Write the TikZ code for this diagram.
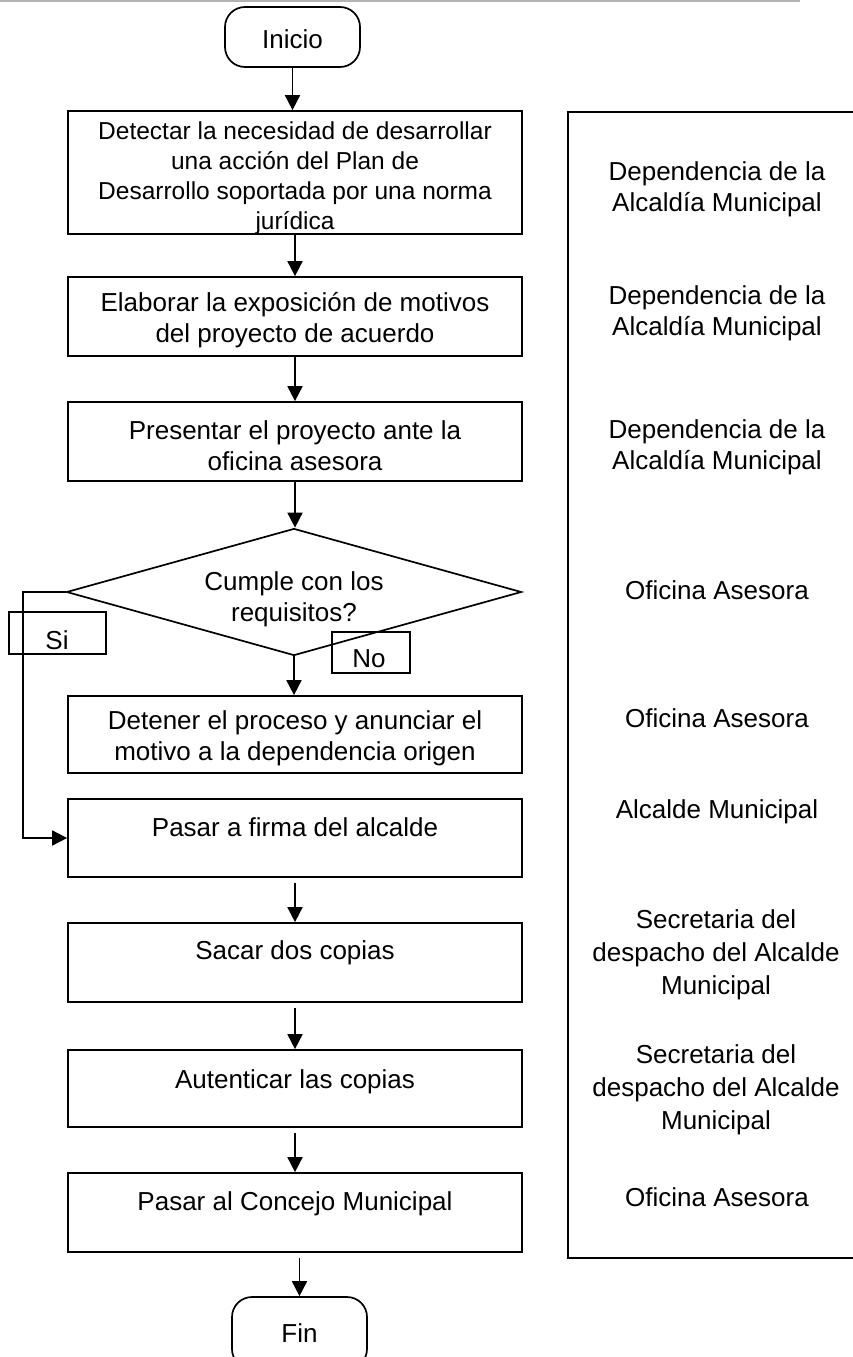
\documentclass[tikz,border=0pt]{standalone}
\usepackage{fontspec}
\setmainfont{Liberation Sans}
\usetikzlibrary{shapes.geometric,arrows.meta}
\begin{document}
\begin{tikzpicture}[x=1pt,y=-1pt,
  box/.style={draw, line width=1.7pt, minimum width=454pt, inner sep=0pt},
  txt/.style={font=\fontsize{26}{31}\selectfont, align=center, inner sep=0pt},
  flow/.style={line width=1.7pt, -{Triangle[length=15pt,width=15pt]}},
  term/.style={draw, line width=1.7pt, rounded corners=20pt, minimum width=135pt, minimum height=60pt, inner sep=0pt},
  tag/.style={draw, line width=1.7pt, inner sep=0pt}]
\useasboundingbox (0,0) rectangle (852,1357);
\draw[gray!60, line width=2pt] (0,1) -- (800,1);
% right column frame
\node[draw, line width=1.7pt, minimum width=340pt, minimum height=1146pt, anchor=north west, inner sep=0pt] (col) at (567,111) {};
% flow nodes
\node[term] (ini) at (292.5,37) {};
\node[txt] (tini) at (292.5,39) {Inicio};
\node[box, minimum height=123pt] (b1) at (295,172.5) {};
\node[txt, font=\fontsize{24.5}{30}\selectfont] (t1) at (295,178) {Detectar la necesidad de desarrollar\\una acción del Plan de\\Desarrollo soportada por una norma\\jurídica};
\node[box, minimum height=79pt] (b2) at (295,316.5) {};
\node[txt] (t2) at (295,320) {Elaborar la exposición de motivos\\del proyecto de acuerdo};
\node[box, minimum height=79pt] (b3) at (295,441.5) {};
\node[txt] (t3) at (295,446) {Presentar el proyecto ante la\\oficina asesora};
\node[draw, diamond, line width=1.7pt, minimum width=455pt, minimum height=127pt, inner sep=0pt] (dia) at (294,592) {};
\node[txt] (td) at (294,599) {Cumple con los\\requisitos?};
\node[tag, minimum width=97pt, minimum height=42pt] (si) at (57.5,633) {};
\node[txt] (tsi) at (57,640) {Si};
\node[tag, minimum width=78pt, minimum height=41pt] (no) at (371,652.5) {};
\node[txt] (tno) at (369,659) {No};
\node[box, minimum height=77pt] (b4) at (295,734.5) {};
\node[txt] (t4) at (295,738) {Detener el proceso y anunciar el\\motivo a la dependencia origen};
\node[box, minimum height=78pt] (b5) at (295,838) {};
\node[txt] (t5) at (295,827) {Pasar a firma del alcalde};
\node[box, minimum height=79pt] (b6) at (295,962.5) {};
\node[txt] (t6) at (295,953) {Sacar dos copias};
\node[box, minimum height=77pt] (b7) at (295,1088.5) {};
\node[txt] (t7) at (295,1082) {Autenticar las copias};
\node[box, minimum height=79pt] (b8) at (295,1212.5) {};
\node[txt] (t8) at (295,1204) {Pasar al Concejo Municipal};
\node[term, minimum height=72pt] (fin) at (299.5,1333) {};
\node[txt] (tfin) at (299.5,1333) {Fin};
% right column texts
\node[txt] (r1) at (717,189) {Dependencia de la\\Alcaldía Municipal};
\node[txt] (r2) at (717,313) {Dependencia de la\\Alcaldía Municipal};
\node[txt] (r3) at (717,447) {Dependencia de la\\Alcaldía Municipal};
\node[txt] (r4) at (717,590) {Oficina Asesora};
\node[txt] (r5) at (717,718) {Oficina Asesora};
\node[txt] (r6) at (717,812) {Alcalde Municipal};
\node[txt, font=\fontsize{26}{33}\selectfont] (r7) at (716,955) {Secretaria del\\despacho del Alcalde\\Municipal};
\node[txt, font=\fontsize{26}{33}\selectfont] (r8) at (716,1090) {Secretaria del\\despacho del Alcalde\\Municipal};
\node[txt] (r9) at (717,1197) {Oficina Asesora};
% connectors
\draw[flow] (ini.south) -- (ini.south |- b1.north);
\draw[flow] (b1.south) -- (b2.north);
\draw[flow] (b2.south) -- (b3.north);
\draw[flow] (b3.south) -- (dia.north -| b3.south);
\draw[flow] (dia.south) -- (dia.south |- b4.north);
\draw[flow] (dia.west) -- (23,592) |- (b5.west);
\draw[flow, shorten <=5pt] (b5.south) -- (b6.north);
\draw[flow, shorten <=5pt] (b6.south) -- (b7.north);
\draw[flow, shorten <=5pt] (b7.south) -- (b8.north);
\draw[flow, shorten <=5pt] (b8.south -| fin.north) -- (fin.north);
\end{tikzpicture}
\end{document}
